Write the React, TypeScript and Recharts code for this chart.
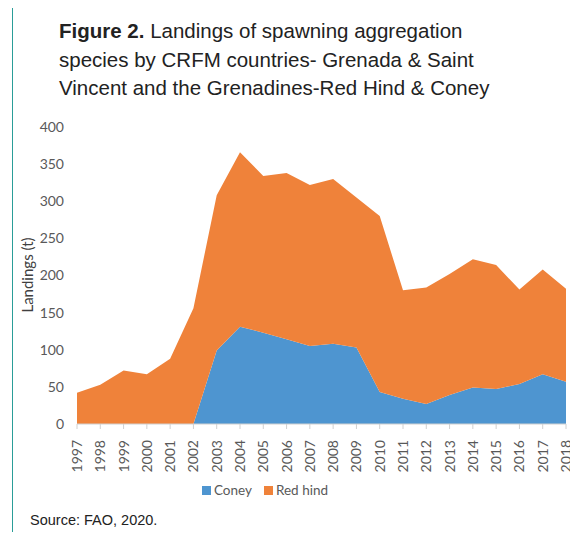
import React from 'react';
import { AreaChart, Area, XAxis, YAxis, Legend } from 'recharts';

const years = [
  '1997', '1998', '1999', '2000', '2001', '2002', '2003', '2004', '2005', '2006', '2007',
  '2008', '2009', '2010', '2011', '2012', '2013', '2014', '2015', '2016', '2017', '2018',
];
const coney = [0, 0, 0, 0, 0, 0, 99, 131, 123, 114, 105, 108, 103, 43, 34, 27, 39, 49, 47, 54, 67, 57];
const redHind = [42, 53, 72, 67, 88, 156, 209, 235, 211, 224, 217, 222, 202, 237, 146, 157, 163, 173, 167, 127, 141, 125];
const yTicks = [0, 50, 100, 150, 200, 250, 300, 350, 400];

const data = years.map((year, i) => ({ year, coney: coney[i], redHind: redHind[i] }));

const BLUE = '#4e95d0';
const ORANGE = '#ef823a';
const TICK_COLOR = '#595959';
const TICK_FONT = 'Lato, "Open Sans", sans-serif';

const YearTick = (props: any) => {
  const { x, y, payload } = props;
  return (
    <text
      x={x}
      y={y}
      transform={`rotate(-90, ${x}, ${y})`}
      dx={-9}
      dy={5}
      textAnchor="end"
      fill={TICK_COLOR}
      fontSize={14}
      fontFamily={TICK_FONT}
    >
      {payload.value}
    </text>
  );
};

const LegendContent = () => (
  <div style={{ display: 'flex', justifyContent: 'center', gap: 12, fontFamily: TICK_FONT, fontSize: 13.5, color: TICK_COLOR }}>
    <span style={{ display: 'flex', alignItems: 'center', gap: 3 }}>
      <span style={{ width: 9, height: 9, background: BLUE, display: 'inline-block' }} />
      Coney
    </span>
    <span style={{ display: 'flex', alignItems: 'center', gap: 3 }}>
      <span style={{ width: 9, height: 9, background: ORANGE, display: 'inline-block' }} />
      Red hind
    </span>
  </div>
);

export default function App() {
  return (
    <div style={{ position: 'relative', width: 578, height: 540, margin: -8, background: '#fff', overflow: 'hidden' }}>
      {/* teal frame, top and left only */}
      <div style={{ position: 'absolute', left: 12, top: 4, right: 0, bottom: 0, borderTop: '1.5px solid #2a9d98', borderLeft: '1.5px solid #2a9d98' }} />

      <div
        style={{
          position: 'absolute',
          left: 59,
          top: 17,
          fontFamily: '"Liberation Sans", Arial, sans-serif',
          fontSize: 20.5,
          lineHeight: '28.5px',
          color: '#222',
        }}
      >
        <b>Figure 2.</b> Landings of spawning aggregation
        <br />
        species by CRFM countries- Grenada &amp; Saint
        <br />
        Vincent and the Grenadines-Red Hind &amp; Coney
      </div>

      <div
        style={{
          position: 'absolute',
          left: 27,
          top: 275,
          transform: 'translate(-50%, -50%) rotate(-90deg)',
          fontFamily: TICK_FONT,
          fontSize: 15,
          color: '#404040',
          whiteSpace: 'nowrap',
        }}
      >
        Landings (t)
      </div>

      <div style={{ position: 'absolute', left: 0, top: 0 }}>
        <AreaChart width={578} height={540} data={data} margin={{ top: 127, right: 12, bottom: 53, left: 27 }}>
          <XAxis
            dataKey="year"
            stroke="#d0d0d0"
            tickLine={{ stroke: '#d0d0d0' }}
            tickSize={5}
            interval={0}
            height={47}
            tick={<YearTick />}
          />
          <YAxis
            domain={[0, 400]}
            ticks={yTicks}
            axisLine={false}
            tickLine={false}
            width={50}
            tick={{ fill: TICK_COLOR, fontSize: 14, fontFamily: TICK_FONT }}
            tickMargin={7}
          />
          <Legend verticalAlign="bottom" content={<LegendContent />} wrapperStyle={{ top: 482, left: 0, width: 530 }} />
          <Area
            type="linear"
            dataKey="coney"
            name="Coney"
            stackId="1"
            stroke="none"
            fill={BLUE}
            fillOpacity={1}
            isAnimationActive={false}
          />
          <Area
            type="linear"
            dataKey="redHind"
            name="Red hind"
            stackId="1"
            stroke="none"
            fill={ORANGE}
            fillOpacity={1}
            isAnimationActive={false}
          />
        </AreaChart>
      </div>

      <div
        style={{
          position: 'absolute',
          left: 30,
          top: 512,
          fontFamily: '"Liberation Sans", Arial, sans-serif',
          fontSize: 14.5,
          color: '#222',
        }}
      >
        Source: FAO, 2020.
      </div>
    </div>
  );
}
